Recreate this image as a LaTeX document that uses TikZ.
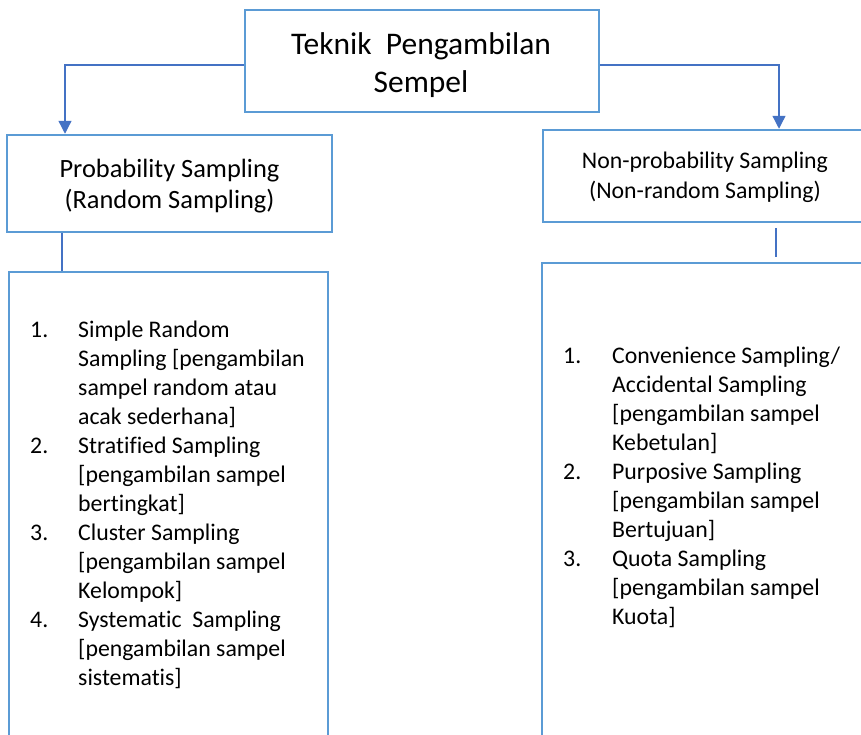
\documentclass[tikz,border=0pt]{standalone}
\usepackage{fontspec}
\setmainfont{Carlito}[Ligatures=NoCommon]
\usepackage{tikz}
\usetikzlibrary{arrows.meta}
\definecolor{boxblue}{HTML}{5B9BD5}
\definecolor{linkblue}{HTML}{4472C4}

\begin{document}
\begin{tikzpicture}[x=1pt, y=-1pt,
  box/.style={draw=boxblue, line width=2.5pt, rectangle, inner sep=0pt},
  label/.style={inner sep=0pt, anchor=base},
  items/.style={inner sep=0pt, anchor=base west, font=\fontsize{23.8}{29}\selectfont},
  link/.style={draw=linkblue, line width=1.3pt},
  tip/.style={-{Triangle[width=13pt,length=13pt]}}]
  \useasboundingbox (0,0) rectangle (861,734);
  \clip (0,0) rectangle (861,734);
  \fill[white] (0,0) rectangle (861,734);
  \node[box, minimum width=354pt, minimum height=102pt] (title) at (422,61) {};
  \node[box, minimum width=325pt, minimum height=97pt] (prob) at (169.5,183.5) {};
  \node[box, minimum width=324pt, minimum height=92pt] (nonprob) at (705,176) {};
  \node[box, minimum width=319pt, minimum height=488pt] (leftlist) at (168.5,516) {};
  \node[box, minimum width=328pt, minimum height=497pt] (rightlist) at (706,511.5) {};
  \node[label, font=\fontsize{31.5}{38.4}\selectfont] (titletext) at (421,54)
    {\begin{tabular}[t]{@{}c@{}}Teknik\ \ Pengambilan\\ Sempel\end{tabular}};
  \node[label, font=\fontsize{26.4}{31.5}\selectfont] (probtext) at (169.5,177)
    {\begin{tabular}[t]{@{}c@{}}Probability Sampling\\ (Random Sampling)\end{tabular}};
  \node[label, font=\fontsize{23.8}{30}\selectfont] (nonprobtext) at (705,168)
    {\begin{tabular}[t]{@{}c@{}}Non-probability Sampling\\ (Non-random Sampling)\end{tabular}};
  \node[items] (leftitems) at (30,337)
    {\begin{tabular}[t]{@{}p{48pt}@{}l@{}}
      1. & Simple Random\\
         & Sampling [pengambilan\\
         & sampel random atau\\
         & acak sederhana]\\
      2. & Stratified Sampling\\
         & [pengambilan sampel\\
         & bertingkat]\\
      3. & Cluster Sampling\\
         & [pengambilan sampel\\
         & Kelompok]\\
      4. & Systematic\ \ Sampling\\
         & [pengambilan sampel\\
         & sistematis]
    \end{tabular}};
  \node[items] (rightitems) at (563,363)
    {\begin{tabular}[t]{@{}p{49pt}@{}l@{}}
      1. & Convenience Sampling/\\
         & Accidental Sampling\\
         & [pengambilan sampel\\
         & Kebetulan]\\
      2. & Purposive Sampling\\
         & [pengambilan sampel\\
         & Bertujuan]\\
      3. & Quota Sampling\\
         & [pengambilan sampel\\
         & Kuota]
    \end{tabular}};
  \draw[link, tip] ([yshift=-4pt]title.west) -| ([xshift=-104.5pt]prob.north);
  \draw[link, tip] ([yshift=-4pt]title.east) -| ([xshift=74pt]nonprob.north);
  \draw[link] ([xshift=-107.5pt]prob.south) -- ([xshift=-106.5pt]leftlist.north);
  \draw[link] ([xshift=71pt,yshift=-5pt]nonprob.south) -- ([xshift=70pt,yshift=5pt]rightlist.north);
\end{tikzpicture}
\end{document}
